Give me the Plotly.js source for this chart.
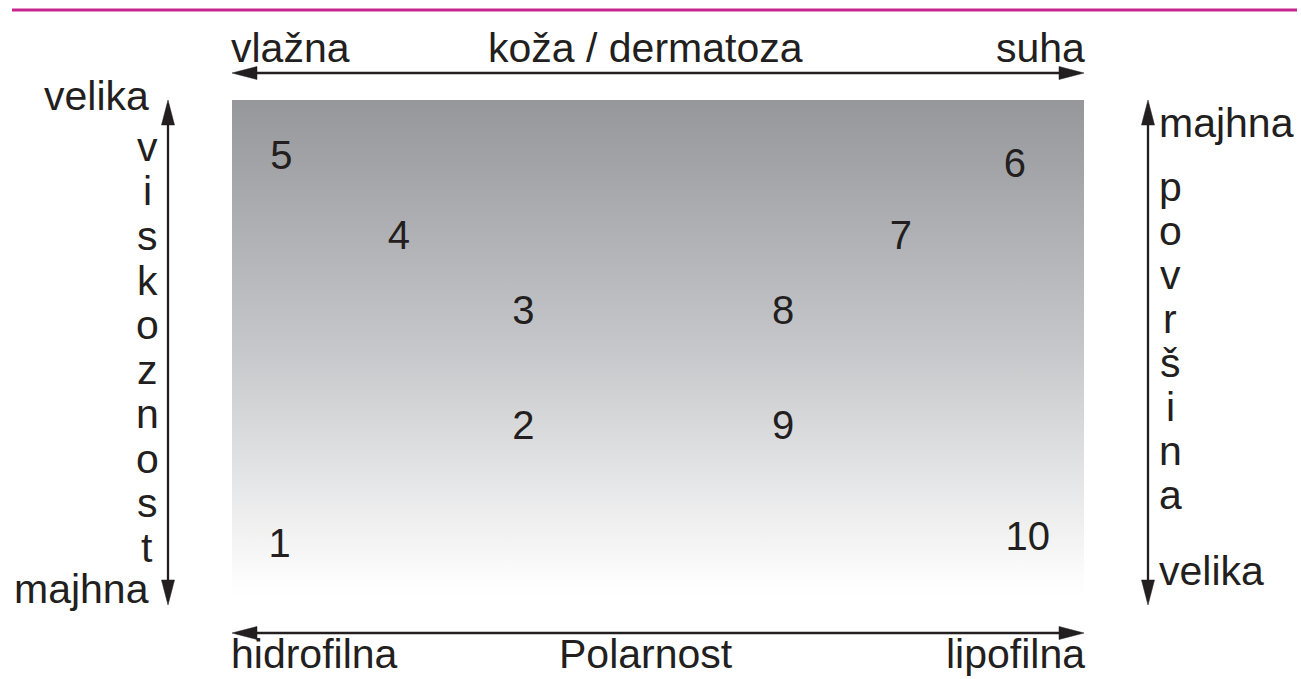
<!DOCTYPE html>
<html>
<head>
<meta charset="utf-8">
<script src="https://cdn.plot.ly/plotly-3.0.1.min.js"></script>
<style>
html,body{margin:0;padding:0;background:#fff;}
#chart{width:1301px;height:679px;}
</style>
</head>
<body>
<div id="chart"></div>
<script>
// ---- data ----
const pointLabels = ["1","2","3","4","5","6","7","8","9","10"];
const polarity   = [0.56, 3.42, 3.42, 1.96, 0.58, 9.19, 7.85, 6.47, 6.47, 9.34]; // 0 = hidrofilna, 10 = lipofilna
const viscosity  = [1.02, 3.39, 5.70, 7.21, 8.82, 8.65, 7.21, 5.70, 3.39, 1.16]; // 0 = majhna, 10 = velika
const axisMin = 0, axisMax = 10;
const topLabels = ["vlažna", "koža / dermatoza", "suha"];
const bottomLabels = ["hidrofilna", "Polarnost", "lipofilna"];
const leftEnds = ["velika", "majhna"];
const rightEnds = ["majhna", "velika"];
const leftWord = "viskoznost";
const rightWord = "površina";

// ---- layout helpers (pixel -> paper) ----
const W = 1301, H = 679;
const M = {l: 232, r: 217, t: 100, b: 81};
const PW = W - M.l - M.r, PH = H - M.t - M.b;
const fx = p => (p - M.l) / PW;
const fy = p => (H - M.b - p) / PH;
const FONT = '"Liberation Sans", Arial, Helvetica, sans-serif';
const INK = '#231f20';
const FS = 41;

const annotations = [];
function label(text, px, py, xanchor) {
  annotations.push({text: text, xref: 'paper', yref: 'paper', x: fx(px), y: fy(py),
    xanchor: xanchor, yanchor: 'middle', showarrow: false,
    font: {family: FONT, size: FS, color: INK}});
}
label(topLabels[0], 229, 48, 'left');
label(topLabels[1], 645, 48, 'center');
label(topLabels[2], 1087, 48, 'right');
label(bottomLabels[0], 229, 654, 'left');
label(bottomLabels[1], 646, 654, 'center');
label(bottomLabels[2], 1087, 654, 'right');
label(leftEnds[0], 151, 96, 'right');
label(leftEnds[1], 151, 589, 'right');
label(rightEnds[0], 1157, 123, 'left');
label(rightEnds[1], 1157, 571, 'left');
leftWord.split('').forEach((c, i) => label(c, 147, 147 + 44.5 * i, 'center'));
rightWord.split('').forEach((c, i) => label(c, 1170, 187 + 44 * i, 'center'));

const shapes = [];
const LW = 2.3;
function line(x0, y0, x1, y1, color, w) {
  shapes.push({type: 'line', xref: 'paper', yref: 'paper', x0: fx(x0), y0: fy(y0), x1: fx(x1), y1: fy(y1),
    line: {color: color, width: w}, layer: 'above'});
}
function tri(pts) {
  const d = 'M ' + pts.map(p => fx(p[0]) + ',' + fy(p[1])).join(' L ') + ' Z';
  shapes.push({type: 'path', xref: 'paper', yref: 'paper', path: d, fillcolor: INK,
    line: {color: INK, width: 0.5}, layer: 'above'});
}
const HL = 25, HW = 6.5;
function hArrow(xa, xb, y) {
  line(xa + 10, y, xb - 10, y, INK, LW);
  tri([[xa, y], [xa + HL, y - HW], [xa + HL, y + HW]]);
  tri([[xb, y], [xb - HL, y - HW], [xb - HL, y + HW]]);
}
function vArrow(x, ya, yb) {
  line(x, ya + 10, x, yb - 10, INK, LW);
  tri([[x, ya], [x - HW, ya + HL], [x + HW, ya + HL]]);
  tri([[x, yb], [x - HW, yb - HL], [x + HW, yb - HL]]);
}
hArrow(232, 1084, 73);
hArrow(232, 1084, 633);
vArrow(168, 100, 605);
vArrow(1148, 100, 605);
// top magenta rule
line(12, 10, 1297, 10, '#c8268f', 3);

const background = {
  x: [axisMin, axisMax, axisMax, axisMin, axisMin],
  y: [axisMin, axisMin, axisMax, axisMax, axisMin],
  mode: 'lines', line: {width: 0}, fill: 'toself', hoverinfo: 'skip',
  fillgradient: {type: 'vertical', colorscale: [[0, '#ffffff'], [0.05, '#fbfbfb'], [0.5, '#c6c7ca'], [1, '#96979b']]},
  showlegend: false
};
const points = {
  x: polarity, y: viscosity, text: pointLabels, mode: 'text',
  textposition: 'middle center',
  textfont: {family: FONT, size: 40, color: INK},
  hoverinfo: 'skip', showlegend: false
};

const layout = {
  width: W, height: H,
  margin: M,
  paper_bgcolor: '#ffffff', plot_bgcolor: 'rgba(0,0,0,0)',
  xaxis: {range: [axisMin, axisMax], visible: false, fixedrange: true},
  yaxis: {range: [axisMin, axisMax], visible: false, fixedrange: true},
  showlegend: false,
  annotations: annotations,
  shapes: shapes
};
Plotly.newPlot('chart', [background, points], layout, {displayModeBar: false, staticPlot: true});
</script>
</body>
</html>
